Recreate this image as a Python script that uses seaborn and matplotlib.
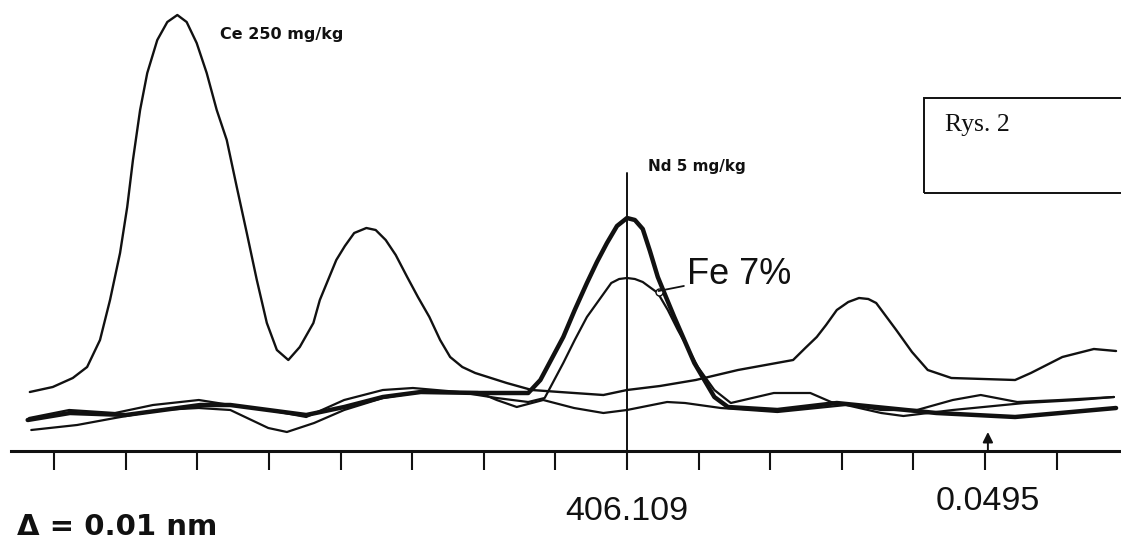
import numpy as np
import pandas as pd
import matplotlib
matplotlib.use("Agg")
import matplotlib.pyplot as plt
from matplotlib.patches import Rectangle
import seaborn as sns

# ---------------- data (wavelength in nm, intensity in arbitrary units) ----------------
ce_wl = [406.0256, 406.0288, 406.0316, 406.0336, 406.0354, 406.0368, 406.0382, 406.0392,
         406.0400, 406.0410, 406.0420, 406.0434, 406.0448, 406.0462, 406.0475, 406.0489,
         406.0503, 406.0517, 406.0531, 406.0545, 406.0559, 406.0573, 406.0587, 406.0601,
         406.0617, 406.0633, 406.0652, 406.0661, 406.0684, 406.0696, 406.0709, 406.0726,
         406.0739, 406.0753, 406.0767, 406.0783, 406.0798, 406.0814, 406.0829, 406.0843,
         406.0860, 406.0878, 406.0922, 406.0957, 406.0996, 406.1057, 406.1090, 406.1136,
         406.1186, 406.1245, 406.1322, 406.1339, 406.1355, 406.1368, 406.1383, 406.1399,
         406.1414, 406.1427, 406.1438, 406.1466, 406.1488, 406.1510, 406.1543, 406.1632,
         406.1654, 406.1698, 406.1742, 406.1773]
ce_int = [59, 64, 73, 84, 111, 151, 198, 244,
          291, 341, 378, 411, 429, 436, 429, 408,
          378, 341, 311, 264, 218, 171, 128, 101,
          91, 104, 128, 151, 191, 205, 218, 223,
          221, 211, 196, 174, 154, 134, 111, 94,
          84, 78, 68, 61, 59, 56, 61, 65,
          71, 81, 91, 103, 114, 126, 141, 149,
          153, 152, 148, 121, 99, 81, 73, 71,
          78, 94, 102, 100]

nd_wl = [406.0253, 406.0312, 406.0390, 406.0494, 406.0536, 406.0589, 406.0642, 406.0695,
         406.0749, 406.0802, 406.0882, 406.0952, 406.0969, 406.1001, 406.1017, 406.1034,
         406.1048, 406.1062, 406.1076, 406.1090, 406.1101, 406.1112, 406.1122, 406.1133,
         406.1145, 406.1156, 406.1184, 406.1212, 406.1231, 406.1300, 406.1383, 406.1438,
         406.1522, 406.1632, 406.1695, 406.1773]
nd_int = [31, 38, 36, 46, 46, 41, 36, 44,
          54, 59, 58, 58, 71, 114, 141, 168,
          189, 208, 225, 233, 231, 222, 200, 174,
          153, 134, 88, 54, 44, 41, 48, 44,
          38, 34, 38, 43]

fe_wl = [406.0255, 406.0311, 406.0375, 406.0428, 406.0492, 406.0536, 406.0589, 406.0642,
         406.0695, 406.0749, 406.0791, 406.0855, 406.0908, 406.0952, 406.0975, 406.1001,
         406.1017, 406.1034, 406.1051, 406.1068, 406.1079, 406.1090, 406.1101, 406.1112,
         406.1133, 406.1147, 406.1161, 406.1175, 406.1189, 406.1212, 406.1235, 406.1295,
         406.1346, 406.1375, 406.1445, 406.1495, 406.1545, 406.1584, 406.1635, 406.1695,
         406.1770]
fe_int = [33, 41, 38, 46, 51, 46, 41, 34,
          51, 61, 63, 59, 53, 49, 53, 88,
          111, 134, 151, 168, 172, 173, 172, 169,
          158, 141, 121, 103, 84, 61, 48, 58,
          58, 49, 41, 41, 51, 56, 49, 51,
          54]

blank_wl = [406.0258, 406.0322, 406.0375, 406.0438, 406.0492, 406.0536, 406.0589, 406.0615,
            406.0653, 406.0695, 406.0749, 406.0802, 406.0882, 406.0908, 406.0936, 406.0973,
            406.1016, 406.1057, 406.1090, 406.1146, 406.1171, 406.1221, 406.1300, 406.1396,
            406.1445, 406.1476, 406.1545, 406.1645, 406.1720, 406.1770]
blank_int = [21, 26, 33, 41, 43, 41, 23, 19,
             28, 41, 53, 59, 59, 51, 44, 51,
             43, 38, 41, 49, 48, 43, 39, 46,
             38, 35, 41, 48, 51, 54]

tick_wl = [406.029, 406.039, 406.049, 406.059, 406.069, 406.079, 406.089, 406.099,
           406.109, 406.119, 406.129, 406.139, 406.149, 406.159, 406.169]
center_wl = 406.109
offset_wl = 406.1594
center_label = "406.109"
offset_label = "0.0495"
step_label = "Δ = 0.01 nm"
ce_label = "Ce 250 mg/kg"
nd_label = "Nd 5 mg/kg"
fe_label = "Fe 7%"
fig_label = "Rys. 2"

# ---------------- style ----------------
sns.set_theme(style="white")
plt.rcParams["font.family"] = ["Liberation Sans", "DejaVu Sans"]
ink = "#111111"

W, H = 1121, 545
fig = plt.figure(figsize=(W / 100, H / 100), dpi=100)
ax = fig.add_axes([11 / W, 94 / H, 1110 / W, 451 / H])
ax.set_facecolor("white")

def draw(wl, inten, lw):
    df = pd.DataFrame({"wl": wl, "I": inten})
    sns.lineplot(data=df, x="wl", y="I", ax=ax, color=ink, linewidth=lw,
                 sort=False, estimator=None, solid_joinstyle="round",
                 solid_capstyle="round")

draw(blank_wl, blank_int, 1.6)
draw(fe_wl, fe_int, 1.6)
draw(ce_wl, ce_int, 1.7)
draw(nd_wl, nd_int, 3.2)

ax.set_xlim(406.02297, 406.17799)
ax.set_ylim(0, 451)
ax.set_xlabel("")
ax.set_ylabel("")
ax.set_yticks([])
ax.set_xticks(tick_wl)
ax.set_xticklabels([])
ax.tick_params(axis="x", bottom=True, direction="out", length=14, width=1.5, color=ink)
for s in ["top", "left", "right"]:
    ax.spines[s].set_visible(False)
ax.spines["bottom"].set_linewidth(2.2)
ax.spines["bottom"].set_color(ink)

# vertical marker line at the Nd line
ax.axvline(center_wl, ymin=-18 / 451, ymax=278 / 451, color=ink, lw=1.4, clip_on=False)

# arrow at offset position
ax.annotate("", xy=(offset_wl, 19), xytext=(offset_wl, 0),
            arrowprops=dict(arrowstyle="-|>,head_length=0.5,head_width=0.25",
                            color=ink, lw=1.4, shrinkA=0, shrinkB=0),
            annotation_clip=False)

# labels
ax.text(406.0521, 416, ce_label, fontsize=11.5, fontweight="bold",
        family="DejaVu Sans", ha="left", va="center", color=ink)
ax.text(406.1119, 284, nd_label, fontsize=11, fontweight="bold",
        family="DejaVu Sans", ha="left", va="center", color=ink)
ax.annotate(fe_label, xy=(406.1134, 160), xytext=(406.1174, 176),
            fontsize=26, ha="left", va="center", color=ink,
            arrowprops=dict(arrowstyle="-", color=ink, lw=1.3, shrinkA=0, shrinkB=0))
ax.plot([406.1134], [159], marker="o", ms=5, mfc="white", mec=ink, mew=1.0)

ax.text(center_wl, -60, center_label, fontsize=24.5, ha="center", va="center",
        color=ink, clip_on=False)
ax.text(offset_wl, -50, offset_label, fontsize=24.5, ha="center", va="center",
        color=ink, clip_on=False)
fig.text(17 / W, 1 - 527 / H, step_label, fontsize=21, fontweight="bold",
         family="DejaVu Sans", ha="left", va="center", color=ink)

# "Rys. 2" frame
fig.patches.append(Rectangle((924 / W, 1 - 193 / H), 220 / W, 95 / H,
                             transform=fig.transFigure, fill=False,
                             edgecolor=ink, lw=1.4))
fig.text(945 / W, 1 - 125 / H, fig_label, fontsize=18.5, family="Liberation Serif",
         ha="left", va="center", color=ink)

fig.savefig("out.png", dpi=100, facecolor="white")
